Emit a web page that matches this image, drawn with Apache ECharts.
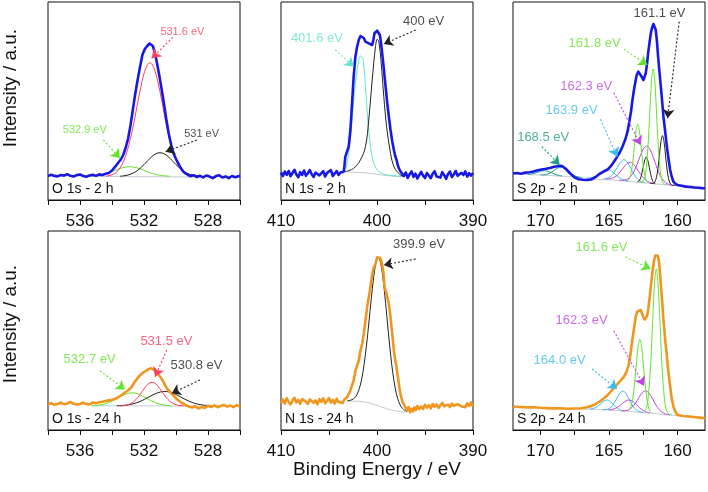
<!DOCTYPE html>
<html><head><meta charset="utf-8">
<script src="https://cdn.jsdelivr.net/npm/echarts@6/dist/echarts.min.js"></script>
<style>html,body{margin:0;padding:0;background:#fff}#c{width:708px;height:492px}</style>
</head><body><div id="c"></div><script>
// ---------- tick values ----------
const ticksO1s = [526,528,530,532,534,536,538];
const labelsO1s = [528,532,536];
const ticksN1s = [390,395,400,405,410];
const labelsN1s = [390,400,410];
const ticksS2p = [160,162.5,165,167.5,170];
const labelsS2p = [160,165,170];

// ---------- O 1s - 2 h ----------
const o1s2hEnvelope = [[538,24.0],[537.8,25.2],[537.6,24.1],[537.4,23.6],[537.2,25.0],[537,24.4],[536.8,25.8],[536.6,24.2],[536.4,23.5],[536.2,24.9],[536,25.5],[535.8,24.0],[535.6,23.2],[535.4,24.6],[535.2,25.3],[535,24.1],[534.8,25.6],[534.6,25.0],[534.4,26.2],[534.2,27.0],[534,29.5],[533.8,33.3],[533.6,37.5],[533.45,40.5],[533.3,45],[533.15,52],[533,61],[532.85,74],[532.7,90],[532.55,106],[532.4,120],[532.25,133],[532.1,145],[531.95,151],[531.8,154],[531.65,156.5],[531.55,157],[531.45,154],[531.35,149],[531.2,138],[531.05,125],[530.9,111],[530.75,96],[530.6,80],[530.45,66],[530.3,55],[530.15,46.5],[530,41],[529.85,36.5],[529.7,32],[529.55,28.5],[529.4,26.5],[529.25,25],[529.1,23.8],[528.9,24.8],[528.7,23.0],[528.5,24.2],[528.3,22.6],[528.1,24.5],[527.9,23.4],[527.7,21.8],[527.5,23.9],[527.3,24.7],[527.1,22.5],[526.9,23.6],[526.7,21.9],[526.5,24.0],[526.3,22.8],[526.1,23.7],[526,24.5]];
const o1s2hFit5316 = [[534.38,23.9],[534.13,24.6],[533.88,26.1],[533.63,29.3],[533.38,35.2],[533.13,44.9],[532.88,59.1],[532.63,77.6],[532.38,98.4],[532.13,118.0],[531.88,132.1],[531.63,137.3],[531.38,132.1],[531.13,118.0],[530.88,98.4],[530.63,77.6],[530.38,59.1],[530.13,44.9],[529.88,35.2],[529.63,29.3],[529.38,26.1],[529.13,24.6],[528.88,23.9]];
const o1s2hFit531 = [[533.5,23.8],[533.25,24.2],[533,25.0],[532.75,26.4],[532.5,28.5],[532.25,31.6],[532,35.4],[531.75,39.6],[531.5,43.5],[531.25,46.3],[531,47.3],[530.75,46.3],[530.5,43.5],[530.25,39.6],[530,35.4],[529.75,31.6],[529.5,28.5],[529.25,26.4],[529,25.0],[528.75,24.2],[528.5,23.8]];
const o1s2hFit5329 = [[535.4,23.8],[535.15,24.0],[534.9,24.5],[534.65,25.2],[534.4,26.2],[534.15,27.5],[533.9,29.0],[533.65,30.6],[533.4,32.0],[533.15,32.95],[532.9,33.3],[532.65,32.95],[532.4,32.0],[532.15,30.6],[531.9,29.0],[531.65,27.5],[531.4,26.2],[531.15,25.2],[530.9,24.5],[530.65,24.0],[530.4,23.8]];
const o1s2hBackground = [[535.8,23.6],[532,23.3],[529,23.0]];
const o1s2hNotes = [
  {text:'531.6 eV', kind:'red', at:[529.6,168.3], from:[530.2,162.7], to:[531.52,141.7]},
  {text:'532.9 eV', kind:'green', at:[535.7,70], from:[534.54,60], to:[533.5,41.7]},
  {text:'531 eV', kind:'black', at:[528.4,66], from:[528.7,60], to:[530.65,48.3]}
];

// ---------- N 1s - 2 h ----------
const n1s2hEnvelope = [[410,27.5],[409.8,24.0],[409.6,28.5],[409.4,25.2],[409.2,29.0],[409,23.8],[408.8,27.0],[408.6,30.2],[408.4,25.5],[408.2,22.8],[408,27.8],[407.8,25.0],[407.6,29.5],[407.4,24.3],[407.2,26.8],[407,30.0],[406.8,25.8],[406.6,23.0],[406.4,27.4],[406.2,29.2],[406,24.6],[405.8,26.5],[405.6,28.8],[405.4,23.5],[405.2,27.2],[405,25.2],[404.8,29.8],[404.6,24.0],[404.4,26.0],[404.2,29.0],[404,25.0],[403.8,27.6],[403.6,26.0],[403.47,28.3],[403.4,33.3],[403.3,43.3],[402.95,53.3],[402.77,70],[402.6,96.7],[402.43,123.3],[402.25,143.3],[402.08,153],[401.9,160],[401.72,164],[401.55,166],[401.38,162],[401.2,158.3],[401.03,157],[400.86,156.7],[400.68,155.5],[400.5,155],[400.38,160],[400.26,166.7],[400.12,168.5],[399.98,169.3],[399.84,168],[399.7,165],[399.58,157],[399.46,146.7],[399.33,135],[399.21,123.3],[399.07,110],[398.93,96.7],[398.76,83],[398.59,70],[398.42,59],[398.24,50],[398.1,44],[397.96,40],[397.84,35],[397.72,31.7],[397.55,28.5],[397.36,26.7],[397.2,24.0],[397,27.5],[396.8,22.0],[396.6,25.8],[396.4,28.6],[396.2,23.2],[396,26.4],[395.8,21.5],[395.6,25.0],[395.4,28.2],[395.2,24.4],[395,22.0],[394.8,27.0],[394.6,25.5],[394.4,21.8],[394.2,26.2],[394,28.8],[393.8,23.6],[393.6,25.2],[393.4,22.4],[393.2,27.8],[393,24.8],[392.8,21.2],[392.6,26.0],[392.4,28.4],[392.2,23.0],[392,25.6],[391.8,29.0],[391.6,24.2],[391.4,22.6],[391.2,27.2],[391,25.0],[390.8,28.6],[390.6,23.4],[390.4,26.8],[390.2,24.4],[390,27.0]];
const n1s2hFit4016 = [[403.3,28.3],[402.95,46.7],[402.6,80],[402.25,116.7],[401.9,140],[401.73,144],[401.45,140],[401.2,113.3],[400.96,80],[400.68,53.3],[400.33,36.7],[399.81,28.3],[398.93,25],[397.72,24],[397.3,23.5]];
const n1s2hFit400 = [[403.3,28.3],[402.43,31.7],[401.73,40],[401.2,53.3],[400.86,80],[400.5,120],[400.16,153.3],[399.98,160.7],[399.8,158],[399.56,136.7],[399.29,103.3],[399,73.3],[398.59,46.7],[398.24,33.3],[397.82,27.3],[397.3,23.5]];
const n1s2hBackground = [[403.3,28.3],[401,27],[399.5,25],[398,23.5],[397.3,23.3]];
const n1s2hNotes = [
  {text:'400 eV', kind:'black', at:[395.15,178.3], from:[395.97,170], to:[399.29,156]},
  {text:'401.6 eV', kind:'mint', at:[406.26,161.7], from:[404.35,150], to:[402.43,133.3]}
];

// ---------- S 2p - 2 h ----------
const s2p2hEnvelope = [[172,26.5],[171.7,27.0],[171.4,26.2],[171.1,27.4],[170.8,27.8],[170.5,28.5],[170.2,29.8],[169.9,30.5],[169.6,31.2],[169.3,32.0],[169,33.2],[168.75,33.8],[168.5,34.3],[168.3,32.8],[168.1,30.5],[167.9,27.5],[167.7,25.0],[167.5,22.5],[167.2,20.8],[166.9,20.2],[166.6,20.0],[166.3,20.5],[166,22.8],[165.7,26.0],[165.4,28.3],[165.1,30.5],[164.9,33.3],[164.65,38],[164.4,43.3],[164.2,48],[164,54],[163.8,61],[163.65,68.3],[163.5,80],[163.4,88],[163.3,99],[163.18,110],[163.08,118],[162.98,125],[162.86,128.3],[162.75,126.5],[162.65,124],[162.49,120],[162.4,122],[162.32,126.7],[162.22,137],[162.15,146.7],[162.05,157],[161.95,166.7],[161.85,173],[161.76,176],[161.67,174.5],[161.59,170],[161.5,158],[161.42,143.3],[161.32,128],[161.22,113.3],[161.12,98],[161.03,83.3],[160.9,68],[160.78,53.3],[160.66,41],[160.54,30],[160.42,23],[160.3,18.3],[160.15,16],[160,15],[159.7,14.2],[159.4,13.4],[159.1,13.0],[158.8,12.5],[158.5,12.3],[158.2,11.9],[158,11.7]];
const s2p2hFit1611a = [[162,16.5],[161.76,16.7],[161.65,18.2],[161.54,22.5],[161.43,31.6],[161.32,45.2],[161.21,58.7],[161.1,64.4],[160.99,58.5],[160.88,44.9],[160.77,31.0],[160.66,21.5],[160.55,16.9],[160.44,15.1],[160.2,14.4]];
const s2p2hFit1611b = [[162.94,18.2],[162.83,18.8],[162.72,21.1],[162.61,25.9],[162.5,33.1],[162.39,40.0],[162.28,42.9],[162.17,39.7],[162.06,32.5],[161.95,25.1],[161.84,19.8],[161.73,17.3],[161.62,16.3]];
const s2p2hFit1618a = [[162.8,17.7],[162.53,18.6],[162.4,22.4],[162.28,32.5],[162.15,55.2],[162.03,86.4],[161.9,118.9],[161.78,131.2],[161.66,118.6],[161.53,85.7],[161.41,54.3],[161.28,31.2],[161.16,20.8],[161.03,16.6],[160.8,15.1]];
const s2p2hFit1618b = [[163.65,19.4],[163.52,21.4],[163.4,26.3],[163.27,37.75],[163.15,53.4],[163.02,69.7],[162.9,75.9],[162.78,69.4],[162.65,52.7],[162.53,36.7],[162.4,24.9],[162.28,19.6],[162.15,17.3]];
const s2p2hFit1623a = [[164.25,19.7],[164,19.7],[163.75,20.3],[163.5,22.25],[163.25,26.7],[163,34.0],[162.75,43.15],[162.5,51.0],[162.25,53.95],[162,50.3],[161.75,41.75],[161.5,31.95],[161.25,24.0],[161,18.9],[160.75,16.3],[160.5,15.1],[160.25,14.55]];
const s2p2hFit1623b = [[165.2,20.9],[164.95,21.15],[164.7,22.1],[164.45,24.2],[164.2,27.8],[163.95,32.35],[163.7,36.25],[163.45,37.6],[163.2,35.55],[162.95,31.05],[162.7,25.8],[162.45,21.55],[162.2,18.8],[161.95,17.25],[161.7,16.4]];
const s2p2hFit1639a = [[165.4,21.1],[165.15,21.55],[164.9,23.2],[164.65,26.95],[164.4,32.6],[164.15,38.1],[163.9,40.3],[163.65,37.5],[163.4,31.3],[163.15,25.0],[162.9,20.65],[162.65,18.4],[162.4,17.3]];
const s2p2hFit1639b = [[166.58,22.2],[166.33,22.25],[166.08,23.0],[165.83,24.65],[165.58,27.2],[165.33,29.65],[165.08,30.6],[164.83,29.15],[164.58,26.2],[164.33,23.15],[164.08,20.95],[163.83,19.6],[163.58,19.0]];
const s2p2hFit1685a = [[170,25.1],[169.75,25.2],[169.5,25.8],[169.25,27.3],[169,29.7],[168.75,31.9],[168.5,32.9],[168.25,31.6],[168,29.0],[167.75,26.15],[167.5,24.2],[167.25,23.15],[167,22.6]];
const s2p2hFit1685b = [[170.93,25.7],[170.68,25.9],[170.43,26.7],[170.18,27.8],[169.93,29.0],[169.68,29.3],[169.43,28.6],[169.18,27.1],[168.93,25.7],[168.68,24.6],[168.43,24.05]];
const s2p2hBackground = [[172,26],[170,25],[168,23.5],[166,20.8],[165,20.2],[164,19.2],[163,18],[162,16.6],[161,15.3],[160,14.2],[158.5,13.6]];
const s2p2hNotes = [
  {text:'161.1 eV', kind:'black', at:[161.32,186.7], from:[159.88,178.3], to:[160.73,81.7]},
  {text:'161.8 eV', kind:'green', at:[166.05,156.7], from:[163.91,150.7], to:[162.2,135]},
  {text:'162.3 eV', kind:'magenta', at:[166.66,114], from:[164.65,107.3], to:[162.69,55]},
  {text:'163.9 eV', kind:'cyan', at:[167.73,90], from:[165.62,80.7], to:[164.4,43.3]},
  {text:'168.5 eV', kind:'teal', at:[169.8,62.7], from:[169.9,53.3], to:[168.6,35]}
];

// ---------- O 1s - 24 h ----------
const o1s24hEnvelope = [[538,25.5],[537.8,26.8],[537.6,25.2],[537.4,26.0],[537.2,27.4],[537,25.8],[536.8,26.5],[536.6,28.0],[536.4,26.2],[536.2,25.4],[536,26.0],[535.8,27.2],[535.6,26.1],[535.4,25.5],[535.2,27.6],[535,26.8],[534.8,27.8],[534.6,28.2],[534.4,29.0],[534.2,29.6],[534,30.2],[533.8,31.2],[533.6,32.8],[533.4,35.0],[533.2,37.5],[533,39.5],[532.8,42.5],[532.6,47.5],[532.4,52],[532.2,55.5],[532,58],[531.8,60],[531.6,61.7],[531.45,61],[531.3,59],[531.15,56.5],[531,53.5],[530.85,50],[530.7,45.5],[530.55,41],[530.4,38.5],[530.25,36],[530.1,33.5],[529.95,31],[529.8,29],[529.6,26.8],[529.4,24.8],[529.2,23.5],[529,22.5],[528.8,23.8],[528.6,21.5],[528.4,23.2],[528.2,22.0],[528,24.2],[527.8,23.0],[527.6,24.6],[527.4,22.8],[527.2,23.9],[527,25.0],[526.8,23.5],[526.6,24.4],[526.4,22.9],[526.2,24.8],[526,23.6]];
const o1s24hFit5315 = [[533.5,24.1],[533.25,24.4],[533,25.3],[532.75,27.1],[532.5,30.5],[532.25,35.4],[532,41.1],[531.75,45.9],[531.5,47.7],[531.25,45.9],[531,41.1],[530.75,35.4],[530.5,30.5],[530.25,27.1],[530,25.3],[529.75,24.4],[529.5,24.1]];
const o1s24hFit5308 = [[533.7,24.2],[533.45,24.4],[533.2,24.7],[532.95,25.3],[532.7,26.1],[532.45,27.3],[532.2,28.9],[531.95,30.8],[531.7,33.0],[531.45,35.1],[531.2,36.9],[530.95,38.1],[530.7,38.5],[530.45,38.1],[530.2,36.9],[529.95,35.1],[529.7,33.0],[529.45,30.8],[529.2,28.9],[528.95,27.3],[528.7,26.1],[528.45,25.3],[528.2,24.7],[527.95,24.4],[527.7,24.2]];
const o1s24hFit5327 = [[535.25,24.2],[535,24.5],[534.75,25.0],[534.5,25.8],[534.25,27.1],[534,28.8],[533.75,30.9],[533.5,33.2],[533.25,35.2],[533,36.7],[532.75,37.2],[532.5,36.7],[532.25,35.2],[532,33.2],[531.75,30.9],[531.5,28.8],[531.25,27.1],[531,25.8],[530.75,25.0],[530.5,24.5],[530.25,24.2]];
const o1s24hBackground = [[535.3,24.3],[531,24.1],[528.5,24.0]];
const o1s24hNotes = [
  {text:'531.5 eV', kind:'red', at:[530.6,88.3], from:[530.58,80], to:[531.31,53.3]},
  {text:'532.7 eV', kind:'green', at:[535.4,70.3], from:[534.75,59.3], to:[533.19,40.3]},
  {text:'530.8 eV', kind:'black', at:[528.72,64.3], from:[528.5,50], to:[530.27,36.7]}
];

// ---------- N 1s - 24 h ----------
const n1s24hEnvelope = [[410,27.0],[409.8,30.5],[409.6,26.4],[409.4,31.8],[409.2,28.0],[409,25.6],[408.8,29.4],[408.6,32.2],[408.4,27.6],[408.2,30.0],[408,26.2],[407.8,31.0],[407.6,33.0],[407.4,28.4],[407.2,26.0],[407,30.6],[406.8,32.4],[406.6,27.2],[406.4,29.6],[406.2,25.8],[406,30.8],[405.8,28.2],[405.6,31.6],[405.4,26.8],[405.2,29.0],[405,32.0],[404.8,27.4],[404.6,30.2],[404.4,26.4],[404.2,31.2],[404,28.0],[403.8,29.8],[403.6,27.0],[403.4,30.4],[403.2,28.6],[403.12,32.7],[402.95,36],[402.77,39.3],[402.6,45],[402.43,49.3],[402.25,59.3],[402.08,64],[401.9,69.3],[401.73,79.3],[401.55,86],[401.38,96],[401.2,109.3],[401.03,122.7],[400.86,132.7],[400.68,142.7],[400.5,156],[400.33,162.7],[400.16,166],[399.98,172.7],[399.81,174.3],[399.68,172],[399.56,169.3],[399.45,164],[399.35,159.3],[399.21,142.7],[399.1,139],[399,136],[398.88,131],[398.76,126],[398.59,112.7],[398.41,96],[398.24,79.3],[398.1,70],[397.96,62.7],[397.84,54],[397.72,46],[397.6,38],[397.47,32.7],[397.33,28],[397.19,26],[397,22.0],[396.84,19.5],[396.7,23.0],[396.55,17.8],[396.4,21.4],[396.25,18.6],[396.1,22.6],[395.95,19.8],[395.8,24.0],[395.6,20.8],[395.4,23.4],[395.2,21.0],[395,25.2],[394.8,22.4],[394.6,24.8],[394.4,21.6],[394.2,26.0],[394,23.2],[393.8,25.6],[393.6,22.0],[393.4,24.6],[393.2,27.0],[393,23.8],[392.8,21.8],[392.6,25.4],[392.4,23.0],[392.2,26.4],[392,24.2],[391.8,22.2],[391.6,25.8],[391.4,27.2],[391.2,23.6],[391,25.0],[390.8,22.8],[390.6,26.6],[390.4,24.0],[390.2,27.6],[390,23.2]];
const n1s24hFit3999 = [[403.1,29.2],[402.85,29.6],[402.6,30.3],[402.35,31.9],[402.1,35.2],[401.85,41.2],[401.6,50.7],[401.35,65.1],[401.1,84.2],[400.85,107],[400.6,131.1],[400.35,152.6],[400.1,167.4],[399.85,172.3],[399.6,165.9],[399.35,149.5],[399.1,126.5],[398.85,101],[398.6,76.9],[398.35,56.8],[398.1,41.7],[397.85,31.6],[397.6,25.2],[397.35,21.6],[397.1,19.7],[396.85,18.8]];
const n1s24hBackground = [[403.1,29],[402,28.7],[401.5,28.3],[401,27.4],[400.5,26.2],[400,24.6],[399.5,23],[399,21.3],[398.5,20],[398,19],[397.5,18.4],[396.8,18]];
const n1s24hNotes = [
  {text:'399.9 eV', kind:'black', at:[395.62,186], from:[395.97,171], to:[399.29,165]}
];

// ---------- S 2p - 24 h ----------
const s2p24hEnvelope = [[172,23.5],[171.5,23.0],[171,22.6],[170.5,22.8],[170,22.2],[169.5,21.9],[169,21.6],[168.5,21.8],[168,21.3],[167.5,21.5],[167,21.8],[166.6,22.8],[166.1,25.0],[165.62,29.0],[165.13,34.5],[164.64,42],[164.28,47.5],[163.91,53.3],[163.72,58],[163.54,66.7],[163.42,77],[163.3,90],[163.17,102],[163.05,113.3],[162.95,118],[162.86,119.5],[162.69,120],[162.58,116],[162.49,112.7],[162.4,110.5],[162.32,110],[162.22,114],[162.15,120],[162.05,131],[161.95,143.3],[161.83,158],[161.71,170],[161.62,174.5],[161.54,176],[161.45,174.5],[161.37,170],[161.3,160],[161.22,146.7],[161.12,128],[161.03,110],[160.9,90],[160.78,73.3],[160.66,57],[160.54,43.3],[160.42,31],[160.3,23.3],[160.15,18],[160,15],[159.6,14.0],[159.2,13.5],[158.8,13.0],[158.4,12.4],[158,11.7]];
const s2p24hFit1616a = [[162.39,18.9],[162.27,22.5],[162.15,31.6],[162.03,50.3],[161.91,80.1],[161.79,117.0],[161.67,148.5],[161.55,161.2],[161.43,148.25],[161.31,116.4],[161.19,79.25],[161.07,49.1],[160.95,30.05],[160.83,20.7],[160.71,16.8],[160.4,14.9]];
const s2p24hFit1616b = [[163.59,19.4],[163.47,21.2],[163.35,25.75],[163.23,35.1],[163.11,50.1],[162.99,68.6],[162.87,84.45],[162.75,90.7],[162.63,84.15],[162.51,68.0],[162.39,49.3],[162.27,34.0],[162.15,24.4],[162.03,19.5],[161.91,17.4]];
const s2p24hFit1623a = [[164.07,19.2],[163.82,19.3],[163.57,20.3],[163.32,22.55],[163.07,26.8],[162.82,32.4],[162.57,37.3],[162.32,39.2],[162.07,36.7],[161.82,31.1],[161.57,24.9],[161.32,20.1],[161.07,17.3],[160.82,15.8],[160.57,15.15]];
const s2p24hFit1623b = [[165.02,20.2],[164.77,20.6],[164.52,21.7],[164.27,23.8],[164.02,26.6],[163.77,29.2],[163.52,30.0],[163.27,28.7],[163.02,25.6],[162.77,22.2],[162.52,19.6],[162.27,18.0],[162.02,17.1]];
const s2p24hFit1640a = [[165.48,20.3],[165.23,20.4],[164.98,21.6],[164.73,24.7],[164.48,30.3],[164.23,36.35],[163.98,39.0],[163.73,35.85],[163.48,29.3],[163.23,23.2],[162.98,19.7],[162.73,18.1],[162.48,17.5]];
const s2p24hFit1640b = [[166.4,20.9],[166.15,21.5],[165.9,22.95],[165.65,25.7],[165.4,28.75],[165.15,30.0],[164.9,28.45],[164.65,25.05],[164.4,21.95],[164.15,20.1],[163.9,19.15]];
const s2p24hBackground = [[168,21.5],[166,20.6],[165,20],[164,19],[163,18],[162,16.8],[161,15.5],[160,14.5],[159,14]];
const s2p24hNotes = [
  {text:'161.6 eV', kind:'green', at:[165.55,183], from:[163.79,173], to:[161.96,161]},
  {text:'162.3 eV', kind:'magenta', at:[167.0,110], from:[164.65,99.3], to:[162.45,44.3]},
  {text:'164.0 eV', kind:'cyan', at:[168.6,69.3], from:[166.23,61], to:[164.4,41]}
];

// ---------- styling / layout ----------
const FONT = "'Liberation Sans', Arial, sans-serif";
const COLORS = {blue:'#1818e6', orange:'#f0961e', red:'#ff3d5e', green:'#62e52c', black:'#222222',
  mint:'#5fe6cf', cyan:'#3bbdf0', magenta:'#c245e6', teal:'#1e9e80', bg:'#c3cbd3'};

const panels = [
  {name:'O 1s - 2 h', rect:{left:48, top:2, width:192, height:198}, ymax:198, min:526, max:538, ticks:ticksO1s, labels:labelsO1s,
   env:[o1s2hEnvelope,'blue'], fits:[[o1s2hBackground,'bg'],[o1s2hFit5329,'green'],[o1s2hFit531,'black'],[o1s2hFit5316,'red']], notes:o1s2hNotes, noteSize:11},
  {name:'N 1s - 2 h', rect:{left:281, top:2, width:192, height:198}, ymax:198, min:390, max:410, ticks:ticksN1s, labels:labelsN1s,
   env:[n1s2hEnvelope,'blue'], fits:[[n1s2hBackground,'bg'],[n1s2hFit4016,'mint'],[n1s2hFit400,'black']], notes:n1s2hNotes, noteSize:13},
  {name:'S 2p - 2 h', rect:{left:513, top:2, width:192, height:198}, ymax:198, min:158, max:172, ticks:ticksS2p, labels:labelsS2p,
   env:[s2p2hEnvelope,'blue'], fits:[[s2p2hBackground,'bg'],[s2p2hFit1685a,'teal'],[s2p2hFit1685b,'teal'],[s2p2hFit1639a,'cyan'],[s2p2hFit1639b,'cyan'],
     [s2p2hFit1623a,'magenta'],[s2p2hFit1623b,'magenta'],[s2p2hFit1611a,'black'],[s2p2hFit1611b,'black'],[s2p2hFit1618a,'green'],[s2p2hFit1618b,'green']], notes:s2p2hNotes, noteSize:13},
  {name:'O 1s - 24 h', rect:{left:48, top:231, width:192, height:199}, ymax:199, min:526, max:538, ticks:ticksO1s, labels:labelsO1s,
   env:[o1s24hEnvelope,'orange'], fits:[[o1s24hBackground,'bg'],[o1s24hFit5327,'green'],[o1s24hFit5308,'black'],[o1s24hFit5315,'red']], notes:o1s24hNotes, noteSize:13},
  {name:'N 1s - 24 h', rect:{left:281, top:231, width:192, height:199}, ymax:199, min:390, max:410, ticks:ticksN1s, labels:labelsN1s,
   env:[n1s24hEnvelope,'orange'], fits:[[n1s24hBackground,'bg'],[n1s24hFit3999,'black']], notes:n1s24hNotes, noteSize:13},
  {name:'S 2p - 24 h', rect:{left:513, top:231, width:192, height:199}, ymax:199, min:158, max:172, ticks:ticksS2p, labels:labelsS2p,
   env:[s2p24hEnvelope,'orange'], fits:[[s2p24hBackground,'bg'],[s2p24hFit1640a,'cyan'],[s2p24hFit1640b,'cyan'],[s2p24hFit1623a,'magenta'],[s2p24hFit1623b,'magenta'],
     [s2p24hFit1616a,'green'],[s2p24hFit1616b,'green']], notes:s2p24hNotes, noteSize:13}
];

const grid = [], xAxis = [], yAxis = [], series = [], graphic = [];
panels.forEach((p, i) => {
  grid.push(Object.assign({show:true, borderColor:'#111', borderWidth:1, backgroundColor:'transparent'}, p.rect));
  xAxis.push({gridIndex:i, type:'value', inverse:true, min:p.min, max:p.max,
    axisLine:{show:true, onZero:false, lineStyle:{color:'#111', width:1}},
    axisTick:{show:true, inside:false, length:5, customValues:p.ticks, lineStyle:{color:'#111', width:1}},
    axisLabel:{show:true, customValues:p.labels, fontSize:17, color:'#111', margin:13, fontFamily:FONT, showMinLabel:true, showMaxLabel:true},
    splitLine:{show:false}});
  yAxis.push({gridIndex:i, type:'value', min:0, max:p.ymax, show:false});
  p.fits.forEach(([d, c]) => {
    series.push({type:'line', xAxisIndex:i, yAxisIndex:i, data:d, showSymbol:false, symbol:'none', smooth:c === 'bg' ? false : 0.35,
      lineStyle:{color:COLORS[c], width:1}, z:c === 'bg' ? 1 : 2, silent:true, animation:false});
  });
  series.push({type:'line', xAxisIndex:i, yAxisIndex:i, data:p.env[0], showSymbol:false, symbol:'none',
    lineStyle:{color:COLORS[p.env[1]], width:2.6, join:'round'}, z:3, silent:true, animation:false});
  series.push({type:'scatter', xAxisIndex:i, yAxisIndex:i, symbolSize:1, itemStyle:{color:'rgba(0,0,0,0)'}, z:5, silent:true, animation:false,
    data:p.notes.map(n => ({name:n.text, value:n.at, label:{color:COLORS[n.kind]}})),
    label:{show:true, position:'inside', formatter:'{b}', fontSize:p.noteSize, fontFamily:FONT},
    markLine:{silent:true, animation:false, symbol:['none','arrow'], symbolSize:9, label:{show:false},
      lineStyle:{type:[2,2], width:1.1},
      data:p.notes.map(n => [{coord:n.from, lineStyle:{color:COLORS[n.kind]}, itemStyle:{color:COLORS[n.kind]}}, {coord:n.to}])}});
  graphic.push({type:'text', x:p.rect.left + 4, y:p.rect.top + p.rect.height - 11,
    style:{text:p.name, fontSize:14, fill:'#111', fontFamily:FONT, align:'left', verticalAlign:'middle'}});
});
graphic.push({type:'text', x:11, y:88, rotation:Math.PI/2, style:{text:'Intensity / a.u.', fontSize:19, fill:'#111', fontFamily:FONT, align:'center', verticalAlign:'middle'}});
graphic.push({type:'text', x:11, y:324, rotation:Math.PI/2, style:{text:'Intensity / a.u.', fontSize:19, fill:'#111', fontFamily:FONT, align:'center', verticalAlign:'middle'}});
graphic.push({type:'text', x:377, y:470, style:{text:'Binding Energy / eV', fontSize:19, fill:'#111', fontFamily:FONT, align:'center', verticalAlign:'middle'}});

const chart = echarts.init(document.getElementById('c'), null, {renderer:'canvas'});
chart.setOption({animation:false, backgroundColor:'#fff', grid, xAxis, yAxis, series, graphic});
</script></body></html>
